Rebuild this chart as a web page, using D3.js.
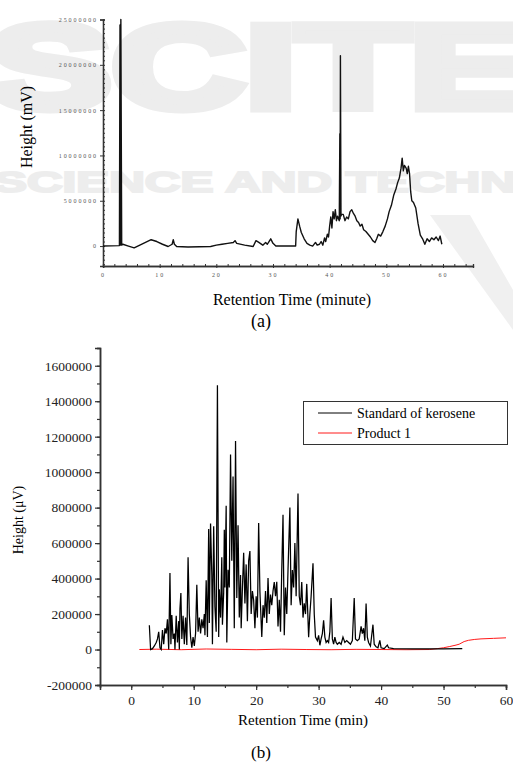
<!DOCTYPE html>
<head>
  <meta charset="utf-8">
  <script src="https://cdn.jsdelivr.net/npm/d3@7"></script>
  <style>
    body { margin:0; background:#fff; }
    svg { display:block; }
  </style>
</head>

<body>
  <script>
// chart (a) : retention time (min) and height (x 1e6 mV)
    var timeA = [0,2.9,3.0,3.1,3.15,3.3,3.5,4.5,5.5,6.5,7.5,8.5,9.5,10.5,11.5,12.2,12.4,12.6,13,15,19,20,21,22,23,23.3,23.6,25,26.5,27,27.5,28.2,28.7,29,29.3,29.6,30,30.5,34,34.1,34.4,34.7,35,35.5,36,36.5,37,37.5,37.8,38.2,38.5,38.8,39.1,39.3,39.6,39.8,40.0,40.2,40.4,40.6,40.8,41.0,41.2,41.4,41.7,41.8,41.85,41.9,42.0,42.1,42.4,42.7,43.0,43.3,43.6,43.9,44.2,44.5,44.8,45.1,45.4,45.7,46.0,46.4,46.8,47.2,47.6,48.0,48.3,48.6,49.0,49.4,49.8,50.2,50.5,50.9,51.3,51.7,52.0,52.3,52.6,52.8,53.0,53.2,53.5,53.7,53.9,54.1,54.3,54.5,54.8,55.2,55.6,56.0,56.4,56.8,57.2,57.6,58.0,58.4,58.8,59.2,59.5,59.8]
    var heightA = [0,0.05,24.4,0.1,25.0,0.1,0.2,0.0,-0.2,0.1,0.4,0.7,0.5,0.2,-0.05,0.2,0.7,0.2,-0.05,-0.1,-0.05,0.1,0.2,0.3,0.4,0.6,0.3,0.1,-0.05,0.6,0.4,0.1,0.4,0.2,0.5,0.8,0.3,0,0,1.6,3.0,2.2,1.5,0.8,0.3,0.1,0,0.4,0.1,0.2,0.5,0.1,0.9,0.5,1.3,1.0,2.2,3.2,2.0,3.8,3.0,4.0,2.8,3.3,2.8,12.4,3.0,21.0,3.3,3.5,3.5,2.8,3.2,3.0,3.8,4.0,3.6,3.3,2.8,2.6,2.2,2.4,1.8,1.6,1.3,1.0,0.6,0.4,0.8,1.3,1.1,1.6,2.2,3.0,3.8,4.5,5.6,6.3,7.0,7.5,8.6,9.7,8.3,8.9,8.6,8.0,8.8,8.0,6.0,5.0,4.8,4.2,2.5,1.2,0.8,0.2,0.8,0.5,0.9,0.7,1.0,0.6,1.1,0.2]
    var ticksA_y = [0,5000000,10000000,15000000,20000000,25000000]
    var ticksA_x = [0,10,20,30,40,50,60]

// chart (b) : retention time (min) and height (x 1000 uV)
    var timeKero = [2.9,3.1,3.4,3.7,4.0,4.2,4.4,4.6,4.8,5.0,5.2,5.4,5.6,5.8,6.0,6.2,6.35,6.5,6.7,6.9,7.0,7.2,7.4,7.6,7.7,7.8,7.95,8.1,8.3,8.5,8.7,8.9,9.1,9.3,9.5,9.7,9.9,10.1,10.3,10.5,10.7,10.9,11.1,11.3,11.5,11.7,11.8,12.0,12.2,12.4,12.5,12.7,12.9,13.0,13.2,13.4,13.6,13.8,14.0,14.1,14.3,14.5,14.6,14.8,14.9,15.0,15.2,15.3,15.5,15.7,15.9,16.1,16.3,16.5,16.7,16.9,17.1,17.3,17.5,17.6,17.8,18.0,18.2,18.4,18.6,18.8,19.0,19.2,19.4,19.6,19.8,20.0,20.2,20.4,20.6,20.9,21.1,21.3,21.5,21.7,21.9,22.1,22.3,22.5,22.7,22.9,23.1,23.3,23.5,23.7,23.9,24.1,24.3,24.5,24.7,24.9,25.1,25.4,25.6,25.8,26.0,26.2,26.4,26.7,26.9,27.1,27.3,27.5,27.7,27.9,28.1,28.4,28.6,28.8,29.1,29.3,29.5,29.8,30.0,30.2,30.4,30.6,30.8,31.0,31.2,31.4,31.6,31.8,32.0,32.2,32.4,32.6,32.8,33.0,33.3,33.6,33.9,34.2,34.5,34.8,35.1,35.4,35.7,35.9,36.2,36.5,36.8,37.0,37.2,37.4,37.6,37.8,38.0,38.3,38.7,38.9,39.2,39.5,39.8,40.0,40.5,41.0,41.2,42,45,50,53]
    var heightKero = [137,0,5,20,40,60,100,10,0,110,30,120,90,170,0,432,30,195,60,90,0,190,40,160,0,230,318,60,190,30,180,25,520,200,70,10,70,20,90,365,100,180,90,170,120,200,80,390,70,680,150,710,420,30,695,240,100,1490,70,340,180,520,140,320,675,350,810,40,450,350,1100,500,975,120,1175,290,700,180,420,120,346,546,260,480,160,500,555,200,330,278,120,300,180,713,330,71,250,180,330,150,403,200,310,250,330,380,300,382,130,280,100,450,760,80,350,200,448,800,250,448,350,600,300,880,300,250,380,180,260,200,370,70,200,300,486,200,70,50,80,24,60,90,165,70,40,50,40,100,290,60,30,70,40,30,40,30,70,40,50,40,30,50,290,60,50,60,130,90,120,50,260,70,40,20,140,30,15,10,52,10,5,25,10,5,3,3,5]
    var timeProd = [1.3,4,8,12,16,20,24,28,32,36,40,44,47.8,49,50,51,52,52.5,53.3,54,55,56,58,60]
    var heightProd = [0,2,-1,3,1,-1,2,0,-1,1,0,-1,0,5,10,17,25,30,45,52,57,60,63,66]
    var ticksB_y = [-200000,0,200000,400000,600000,800000,1000000,1200000,1400000,1600000]
    var ticksB_x = [0,10,20,30,40,50,60]
    var legendNames = ["Standard of kerosene","Product 1"]
    var legendColors = ["#000","#ff1a1a"]

    var width = 513;
    var height = 765;
    var svg = d3.select("body").append("svg")
      .attr("width", width)
      .attr("height", height)

// publisher watermark in the background
    var wm = svg.append("g").attr("fill", "#ededed").attr("stroke", "#ededed")
      .style("font-family", "Liberation Sans, Arial, sans-serif").style("font-weight", "bold")
    wm.append("text").attr("x", -12).attr("y", 108).attr("font-size", 118).attr("stroke-width", 9)
      .attr("textLength", 545).attr("lengthAdjust", "spacingAndGlyphs").text("SCITE")
    wm.append("text").attr("x", -6).attr("y", 192).attr("font-size", 30).attr("stroke-width", 2)
      .attr("textLength", 700).attr("lengthAdjust", "spacingAndGlyphs").text("SCIENCE AND TECHNOLOGY")
    wm.append("path").attr("d", "M430,215 L470,215 L513,290 L513,330 Z").attr("fill", "#f0f0f0").attr("stroke", "none")

    var serif = "Liberation Serif, Times New Roman, serif"

// ---------------- chart (a) ----------------
    var xA = d3.scaleLinear().domain([0, 65.3]).range([103, 473])
    var yA = d3.scaleLinear().domain([-2.2e6, 25e6]).range([266, 19.5])

    var gA = svg.append("g")

    // minor ticks
    gA.append("g").attr("transform", "translate(103,0)")
      .call(d3.axisRight(yA).tickValues(d3.range(-2e6, 25.01e6, 5e5)).tickSize(2).tickFormat(""))
    gA.append("g").attr("transform", "translate(0,266)")
      .call(d3.axisTop(xA).tickValues(d3.range(0, 65, 2)).tickSize(2).tickFormat(""))

    gA.append("g").attr("transform", "translate(103,0)")
      .call(d3.axisLeft(yA).tickValues(ticksA_y).tickSize(3).tickPadding(2).tickFormat(function(d){ return String(d); }))
    gA.append("g").attr("transform", "translate(0,266)")
      .call(d3.axisBottom(xA).tickValues(ticksA_x).tickSize(2).tickPadding(5).tickFormat(function(d){ return String(d); }))

    gA.selectAll(".domain").attr("stroke", "#333").attr("stroke-width", 1.3)
    gA.selectAll(".tick line").attr("stroke", "#333")
    gA.selectAll(".tick text")
      .attr("fill", "#555")
      .style("font-family", serif)
      .style("font-size", "6px")
      .style("letter-spacing", "1.9px")

    var lineA = d3.line()
      .x(function(d){ return xA(d[0]); })
      .y(function(d){ return yA(d[1] * 1e6); })
    gA.append("path")
      .datum(d3.zip(timeA, heightA))
      .attr("d", lineA)
      .attr("fill", "none")
      .attr("stroke", "#111")
      .attr("stroke-width", 1.4)
      .attr("stroke-linejoin", "round")

    svg.append("text")
      .attr("transform", "translate(32,127)rotate(-90)")
      .attr("text-anchor", "middle")
      .style("font-family", serif).style("font-size", "16px")
      .text("Height (mV)")
    svg.append("text")
      .attr("x", 292).attr("y", 305)
      .attr("text-anchor", "middle")
      .style("font-family", serif).style("font-size", "16px")
      .text("Retention Time (minute)")
    svg.append("text")
      .attr("x", 261).attr("y", 327)
      .attr("text-anchor", "middle")
      .style("font-family", serif).style("font-size", "18px")
      .text("(a)")

// ---------------- chart (b) ----------------
    var xB = d3.scaleLinear().domain([-5, 60]).range([100, 506])
    var yB = d3.scaleLinear().domain([-200000, 1700000]).range([685, 348])

    var gB = svg.append("g")

    gB.append("g").attr("transform", "translate(100,0)")
      .call(d3.axisLeft(yB).tickValues(d3.range(-200000, 1700001, 100000)).tickSize(3).tickFormat(""))
    gB.append("g").attr("transform", "translate(0,685)")
      .call(d3.axisBottom(xB).tickValues(d3.range(-5, 61, 5)).tickSize(3).tickFormat(""))

    gB.append("g").attr("transform", "translate(100,0)")
      .call(d3.axisLeft(yB).tickValues(ticksB_y).tickSize(5).tickPadding(3).tickFormat(function(d){ return String(d); }))
    gB.append("g").attr("transform", "translate(0,685)")
      .call(d3.axisBottom(xB).tickValues(ticksB_x).tickSize(5).tickPadding(5).tickFormat(function(d){ return String(d); }))

    gB.selectAll(".domain").attr("stroke", "#333").attr("stroke-width", 1.5)
    gB.selectAll(".tick line").attr("stroke", "#333").attr("stroke-width", 1.2)
    gB.selectAll(".tick text")
      .attr("fill", "#222")
      .style("font-family", serif)
      .style("font-size", "13.5px")

    var lineB = d3.line()
      .x(function(d){ return xB(d[0]); })
      .y(function(d){ return yB(d[1] * 1000); })

    gB.append("path")
      .datum(d3.zip(timeProd, heightProd))
      .attr("d", lineB)
      .attr("fill", "none")
      .attr("stroke", legendColors[1])
      .attr("stroke-width", 1)
    gB.append("path")
      .datum(d3.zip(timeKero, heightKero))
      .attr("d", lineB)
      .attr("fill", "none")
      .attr("stroke", legendColors[0])
      .attr("stroke-width", 1.25)

// legend
    var leg = svg.append("g")
    leg.append("rect")
      .attr("x", 303.5).attr("y", 401.5).attr("width", 204).attr("height", 43)
      .attr("fill", "#fff").attr("stroke", "#333").attr("stroke-width", 1)
    legendNames.forEach(function(name, i){
      leg.append("line")
        .attr("x1", 318).attr("x2", 352)
        .attr("y1", 413 + i * 20).attr("y2", 413 + i * 20)
        .attr("stroke", legendColors[i]).attr("stroke-width", 1)
      leg.append("text")
        .attr("x", 357).attr("y", 418 + i * 20)
        .style("font-family", serif).style("font-size", "14px")
        .text(name)
    })

    svg.append("text")
      .attr("transform", "translate(23,520)rotate(-90)")
      .attr("text-anchor", "middle")
      .style("font-family", serif).style("font-size", "14px")
      .text("Height (\u03bcV)")
    svg.append("text")
      .attr("x", 303).attr("y", 725)
      .attr("text-anchor", "middle")
      .style("font-family", serif).style("font-size", "15px")
      .text("Retention Time (min)")
    svg.append("text")
      .attr("x", 261).attr("y", 758)
      .attr("text-anchor", "middle")
      .style("font-family", serif).style("font-size", "17px")
      .text("(b)")
  </script>
</body>
